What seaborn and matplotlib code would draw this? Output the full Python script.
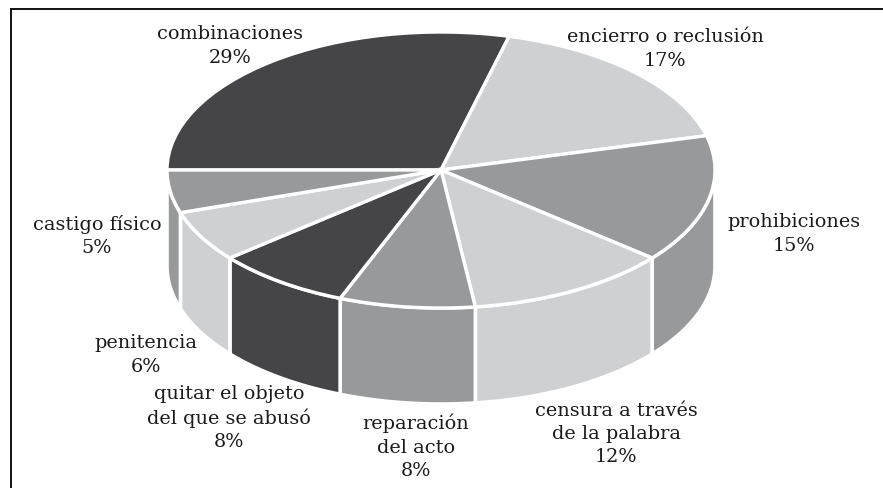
import matplotlib
matplotlib.use('Agg')
import matplotlib.pyplot as plt
import numpy as np
import seaborn as sns

# Shares in pie order, clockwise from the left-hand edge
names = ['combinaciones', 'encierro o reclusión', 'prohibiciones', 'censura a través\nde la palabra',
         'reparación\ndel acto', 'quitar el objeto\ndel que se abusó', 'penitencia', 'castigo físico']
shares = [29, 17, 15, 12, 8, 8, 6, 5]
colors = ['#454547', '#cfd0d2', '#98999b', '#cfd0d2', '#98999b', '#454547', '#cfd0d2', '#98999b']
# label centres in image pixels
label_x = [230, 665, 794, 616, 416, 229, 146, 97]
label_y = [46, 49, 234, 434, 447, 418, 355, 236]

W, H = 883, 489
CX, CY, RX, RY = 441, 171, 274, 138  # top ellipse in image pixels
DEPTH = 96 / RY

sns.set_theme(style='white')
plt.rcParams['font.family'] = ['DejaVu Serif']

fig = plt.figure(figsize=(W / 100, H / 100), dpi=100)
ax = fig.add_axes([11 / W, 0, (W - 11) / W, (H - 10) / H])

# side wall: only the part of each slice facing the viewer
bounds = 180 - np.cumsum([0] + shares) * 3.6
for start, end, color in zip(bounds[:-1], bounds[1:], colors):
    lo, hi = max(end, -180), min(start, 0)
    if hi <= lo:
        continue
    t = np.radians(np.linspace(lo, hi, 80))
    xs = np.r_[np.cos(t), np.cos(t[::-1])]
    ys = np.r_[np.sin(t), np.sin(t[::-1]) - DEPTH]
    ax.fill(xs, ys, facecolor=color, edgecolor='white', lw=2.6, joinstyle='miter', zorder=1)

ax.pie(shares, colors=colors, startangle=180, counterclock=False, radius=1,
       wedgeprops={'edgecolor': 'white', 'linewidth': 2.4, 'zorder': 2})

ax.set_aspect('auto')
ax.set_xlim((11 - CX) / RX, (W - CX) / RX)
ax.set_ylim((CY - H) / RY, (CY - 10) / RY)
ax.set_frame_on(True)
for side in ['right', 'bottom']:
    ax.spines[side].set_visible(False)
for side in ['left', 'top']:
    ax.spines[side].set_visible(True)
    ax.spines[side].set_color('#111111')
    ax.spines[side].set_linewidth(1.4)

for name, share, lx, ly in zip(names, shares, label_x, label_y):
    ax.text((lx - CX) / RX, (CY - ly) / RY, f'{name}\n{share}%', ha='center', va='center',
            fontsize=13.9, color='#1a1a1a', linespacing=1.38, zorder=3)

fig.savefig('out.png', dpi=100)
